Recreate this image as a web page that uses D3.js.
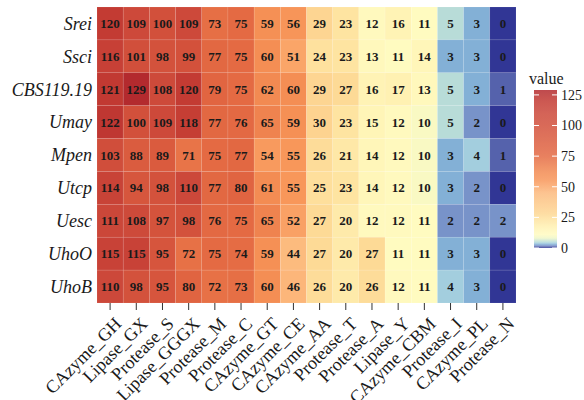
<!DOCTYPE html>
<html>
<head>
<meta charset="utf-8">
<script src="https://cdn.jsdelivr.net/npm/d3@7"></script>
<style>
  body { margin: 0; background: #fff; }
  svg text { font-family: "Liberation Serif", "DejaVu Serif", serif; }
</style>
</head>
<body>
<svg id="chart" width="584" height="400"></svg>
<script>
// heatmap data
const rows = ["Srei", "Ssci", "CBS119.19", "Umay", "Mpen", "Utcp", "Uesc", "UhoO", "UhoB"];
const cols = ["CAzyme_GH", "Lipase_GX", "Protease_S", "Lipase_GGGX", "Protease_M", "Protease_C",
  "CAzyme_GT", "CAzyme_CE", "CAzyme_AA", "Protease_T", "Protease_A", "Lipase_Y",
  "CAzyme_CBM", "Protease_I", "CAzyme_PL", "Protease_N"];
const values = [
  [120, 109, 100, 109, 73, 75, 59, 56, 29, 23, 12, 16, 11, 5, 3, 0],
  [116, 101, 98, 99, 77, 75, 60, 51, 24, 23, 13, 11, 14, 3, 3, 0],
  [121, 129, 108, 120, 79, 75, 62, 60, 29, 27, 16, 17, 13, 5, 3, 1],
  [122, 100, 109, 118, 77, 76, 65, 59, 30, 23, 15, 12, 10, 5, 2, 0],
  [103, 88, 89, 71, 75, 77, 54, 55, 26, 21, 14, 12, 10, 3, 4, 1],
  [114, 94, 98, 110, 77, 80, 61, 55, 25, 23, 14, 12, 10, 3, 2, 0],
  [111, 108, 97, 98, 76, 75, 65, 52, 27, 20, 12, 12, 11, 2, 2, 2],
  [115, 115, 95, 72, 75, 74, 59, 44, 27, 20, 27, 11, 11, 3, 3, 0],
  [110, 98, 95, 80, 72, 73, 60, 46, 26, 20, 26, 12, 11, 4, 3, 0]
];
const legendTicks = [0, 25, 50, 75, 100, 125];

// colour stops (value -> colour)
const stopVals = [0, 1, 2, 3, 4, 5, 8, 11, 16, 22, 28, 45, 55, 62, 75, 80, 100, 110, 120, 129];
const stopCols = ["#313695", "#5562ac", "#7893c9", "#83b0d6", "#a3cede", "#b8dcd8", "#eef6c8",
  "#fffbc0", "#fff3b5", "#fee6a4", "#fdd793", "#fcb97d", "#f8975a", "#f28a52", "#e46a43",
  "#e06441", "#d2503b", "#cc483a", "#c33b33", "#b32a2e"];

const FONT = "'Liberation Serif', 'DejaVu Serif', serif";
const svg = d3.select("#chart");
const margin = { left: 97, top: 7, right: 516, bottom: 303 };

const color = d3.scaleLinear().domain(stopVals).range(stopCols).interpolate(d3.interpolateRgb);
const x = d3.scaleBand().domain(cols).range([margin.left, margin.right]);
const y = d3.scaleBand().domain(rows).range([margin.top, margin.bottom]);

const cells = [];
rows.forEach((r, i) => cols.forEach((c, j) => cells.push({ r, c, v: values[i][j] })));

svg.append("g").selectAll("rect").data(cells).enter().append("rect")
  .attr("x", d => x(d.c)).attr("y", d => y(d.r))
  .attr("width", x.bandwidth()).attr("height", y.bandwidth())
  .attr("fill", d => color(d.v))
  .attr("stroke", "#fff").attr("stroke-opacity", 0.15).attr("stroke-width", 0.6);

svg.append("g").selectAll("text").data(cells).enter().append("text")
  .attr("x", d => x(d.c) + x.bandwidth() / 2)
  .attr("y", d => y(d.r) + y.bandwidth() / 2)
  .attr("dy", "0.35em")
  .attr("text-anchor", "middle")
  .attr("font-family", FONT)
  .attr("font-size", 13).attr("font-weight", "bold").attr("fill", "#1a1a1a")
  .text(d => d.v);

// y axis labels (no ticks)
svg.append("g").selectAll("text").data(rows).enter().append("text")
  .attr("x", margin.left - 5)
  .attr("y", d => y(d) + y.bandwidth() / 2)
  .attr("dy", "0.35em")
  .attr("text-anchor", "end")
  .attr("font-family", FONT)
  .attr("font-size", 18).attr("font-style", "italic").attr("fill", "#1a1a1a")
  .text(d => d);

// x axis ticks + rotated labels
const xg = svg.append("g");
xg.selectAll("line").data(cols).enter().append("line")
  .attr("x1", d => x(d) + x.bandwidth() / 2).attr("x2", d => x(d) + x.bandwidth() / 2)
  .attr("y1", margin.bottom).attr("y2", margin.bottom + 7)
  .attr("stroke", "#333").attr("stroke-width", 1);
xg.selectAll("text").data(cols).enter().append("text")
  .attr("transform", d => `translate(${x(d) + x.bandwidth() / 2 + 3.5},${margin.bottom + 13}) rotate(-45)`)
  .attr("text-anchor", "end")
  .attr("dy", "0.7em")
  .attr("font-family", FONT)
  .attr("font-size", 18).attr("fill", "#1a1a1a")
  .text(d => d);

// legend colourbar
const lg = svg.append("g");
const ly = d3.scaleLinear().domain([0, 129]).range([248, 90]);
const grad = svg.append("defs").append("linearGradient").attr("id", "lgrad")
  .attr("x1", 0).attr("y1", 1).attr("x2", 0).attr("y2", 0);
grad.selectAll("stop").data(d3.range(0, 130, 1)).enter().append("stop")
  .attr("offset", d => d / 129).attr("stop-color", d => color(d));
lg.append("rect").attr("x", 534).attr("y", ly(129)).attr("width", 23)
  .attr("height", ly(0) - ly(129)).attr("fill", "url(#lgrad)").attr("opacity", 0.85);
lg.selectAll(".tl").data(legendTicks).enter().append("line").attr("class", "tl")
  .attr("x1", 534).attr("x2", 539).attr("y1", d => ly(d)).attr("y2", d => ly(d))
  .attr("stroke", "#fff").attr("stroke-width", 1);
lg.selectAll(".tr").data(legendTicks).enter().append("line").attr("class", "tr")
  .attr("x1", 552).attr("x2", 557).attr("y1", d => ly(d)).attr("y2", d => ly(d))
  .attr("stroke", "#fff").attr("stroke-width", 1);
lg.selectAll(".lt").data(legendTicks).enter().append("text").attr("class", "lt")
  .attr("x", 561).attr("y", d => ly(d)).attr("dy", "0.35em")
  .attr("font-family", FONT)
  .attr("font-size", 14).attr("fill", "#1a1a1a")
  .text(d => d);
lg.append("text").attr("x", 529).attr("y", 84)
  .attr("font-family", FONT)
  .attr("font-size", 16).attr("fill", "#1a1a1a").text("value");
</script>
</body>
</html>
